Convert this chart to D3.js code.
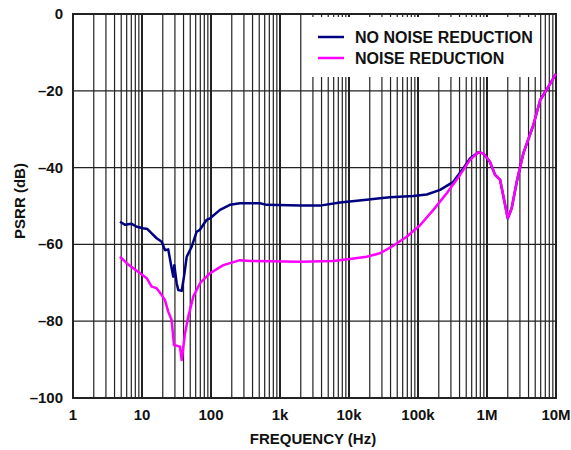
<!DOCTYPE html>
<html>
<head>
<meta charset="utf-8">
<script src="https://cdn.jsdelivr.net/npm/d3@7"></script>
<style>
    body { margin: 0; background: #fff; }
    text { font-family: "Liberation Sans", Arial, sans-serif; font-weight: bold; fill: #111; }
</style>
</head>
<body>
<div id="psrrChart"></div>
<script>

// frequency points (Hz) and PSRR (dB)
const freq_no_nr = [4.8, 5.7, 7, 8.4, 10.4, 12, 13.8, 16.3, 19.3, 21.5, 24, 26.9, 28.4, 29.4, 31.8, 33.6, 37.6, 40.6, 44.5, 52.5, 62, 69, 86.5, 97, 135, 188, 263, 513, 641, 1950, 3800, 7400, 18000, 28100, 39300, 85000, 134000, 209000, 325000, 453000, 567000, 749000, 885000, 1.1e6, 1.31e6, 1.55e6, 2.0e6, 2.28e6, 2.7e6, 3.36e6, 4.7e6, 5.9e6, 7.66e6, 10e6];
const psrr_no_nr = [-54.1, -54.9, -54.6, -55.4, -55.8, -56.0, -57.1, -58.4, -59.3, -61.5, -61.3, -66.2, -68.4, -65.4, -70.1, -71.9, -72.1, -68.4, -63.2, -60.6, -56.7, -56.2, -53.6, -53.2, -51, -49.7, -49.3, -49.3, -49.7, -49.9, -49.9, -49.1, -48.4, -48, -47.7, -47.4, -47, -45.8, -43.7, -40.2, -37.6, -36, -36.3, -38.5, -41.9, -43.2, -53.2, -50.6, -43.7, -36.3, -28.9, -22.4, -19.1, -15.6];

const freq_nr = [4.8, 6, 7.5, 9.4, 11.7, 13.8, 16.3, 19.3, 21.5, 24, 26.9, 29.1, 33.6, 35.5, 37.6, 42, 46.9, 55.4, 69.3, 97, 151, 263, 367, 1950, 5900, 10300, 18000, 28100, 40000, 68500, 107000, 167000, 261000, 406000, 567000, 749000, 885000, 1.1e6, 1.31e6, 1.55e6, 2.0e6, 2.28e6, 2.7e6, 3.36e6, 4.7e6, 5.9e6, 7.66e6, 10e6];
const psrr_nr = [-63.2, -64.9, -66.2, -67.5, -68.8, -71, -71.4, -73.2, -74.5, -77.5, -79.7, -86.2, -86.5, -86.6, -90.1, -83.2, -78.8, -73.6, -70.1, -67.5, -65.4, -64.1, -64.3, -64.5, -64.3, -63.8, -63.2, -62.3, -60.8, -58, -55, -51, -46.7, -41.9, -38, -36, -36.3, -38.5, -41.9, -43.2, -53.2, -50.6, -43.7, -36.3, -28.9, -22.4, -19.1, -15.6];

const x_ticks = [1, 10, 100, 1e3, 1e4, 1e5, 1e6, 1e7];
const x_tick_labels = ["1", "10", "100", "1k", "10k", "100k", "1M", "10M"];
const y_ticks = [0, -20, -40, -60, -80, -100];
const y_tick_labels = ["0", "\u201320", "\u201340", "\u201360", "\u201380", "\u2013100"];

const legend_labels = ["NO NOISE REDUCTION", "NOISE REDUCTION"];
const colors = ["#000080", "#ff00ff"];

const margin = { top: 14, right: 15, bottom: 52, left: 73 };
const width = 571 - margin.left - margin.right;
const height = 450 - margin.top - margin.bottom;

const svg = d3.select("#psrrChart")
    .append("svg")
    .attr("width", 571)
    .attr("height", 450)
    .append("g")
    .attr("transform", `translate(${margin.left}, ${margin.top})`);

const x = d3.scaleLog().domain([1, 1e7]).range([0, width]);
const y = d3.scaleLinear().domain([-100, 0]).range([height, 0]);

// vertical grid: 1..9 in every decade
const gridX = [];
for (let d = 0; d < 7; d++) {
    for (let m = 1; m <= 9; m++) gridX.push(m * Math.pow(10, d));
}
gridX.push(1e7);

svg.selectAll(".vgrid")
    .data(gridX)
    .enter()
    .append("line")
    .attr("x1", d => x(d))
    .attr("x2", d => x(d))
    .attr("y1", 0)
    .attr("y2", height)
    .attr("stroke", "#222")
    .attr("stroke-width", d => x_ticks.includes(d) ? 2 : 1.2);

svg.selectAll(".hgrid")
    .data(y_ticks)
    .enter()
    .append("line")
    .attr("x1", 0)
    .attr("x2", width)
    .attr("y1", d => y(d))
    .attr("y2", d => y(d))
    .attr("stroke", "#222")
    .attr("stroke-width", 1.3);

svg.append("rect")
    .attr("width", width)
    .attr("height", height)
    .attr("fill", "none")
    .attr("stroke", "#222")
    .attr("stroke-width", 2);

// tick labels
svg.selectAll(".xlab")
    .data(x_ticks)
    .enter()
    .append("text")
    .attr("x", d => x(d))
    .attr("y", height + 22)
    .attr("text-anchor", "middle")
    .attr("font-size", "15px")
    .text((d, i) => x_tick_labels[i]);

svg.selectAll(".ylab")
    .data(y_ticks)
    .enter()
    .append("text")
    .attr("x", -10)
    .attr("y", d => y(d) + 5)
    .attr("text-anchor", "end")
    .attr("font-size", "15px")
    .text((d, i) => y_tick_labels[i]);

// axis titles
svg.append("text")
    .attr("x", 313 - margin.left)
    .attr("y", height + 46)
    .attr("text-anchor", "middle")
    .attr("font-size", "15px")
    .text("FREQUENCY (Hz)");

svg.append("text")
    .attr("transform", "rotate(-90)")
    .attr("x", -(201 - margin.top))
    .attr("y", 25 - margin.left)
    .attr("text-anchor", "middle")
    .attr("font-size", "15px")
    .text("PSRR (dB)");

// legend box
svg.append("rect")
    .attr("x", 308 - margin.left)
    .attr("y", 17 - margin.top)
    .attr("width", 230)
    .attr("height", 60)
    .attr("fill", "#fff");

const line = d3.line()
    .x(d => x(d[0]))
    .y(d => y(d[1]));

const series = [
    d3.zip(freq_no_nr, psrr_no_nr),
    d3.zip(freq_nr, psrr_nr)
];

svg.selectAll(".curve")
    .data(series)
    .enter()
    .append("path")
    .attr("d", line)
    .attr("fill", "none")
    .attr("stroke", (d, i) => colors[i])
    .attr("stroke-width", 2.5)
    .attr("stroke-linejoin", "round");

const legend = svg.selectAll(".legend")
    .data(legend_labels)
    .enter()
    .append("g")
    .attr("transform", (d, i) => `translate(${318 - margin.left}, ${37 + i * 21 - margin.top})`);

legend.append("line")
    .attr("x1", 0)
    .attr("x2", 26)
    .attr("stroke", (d, i) => colors[i])
    .attr("stroke-width", 2.5);

legend.append("text")
    .attr("x", 37)
    .attr("y", 6)
    .attr("font-size", "16px")
    .text(d => d);

</script>
</body>
</html>
